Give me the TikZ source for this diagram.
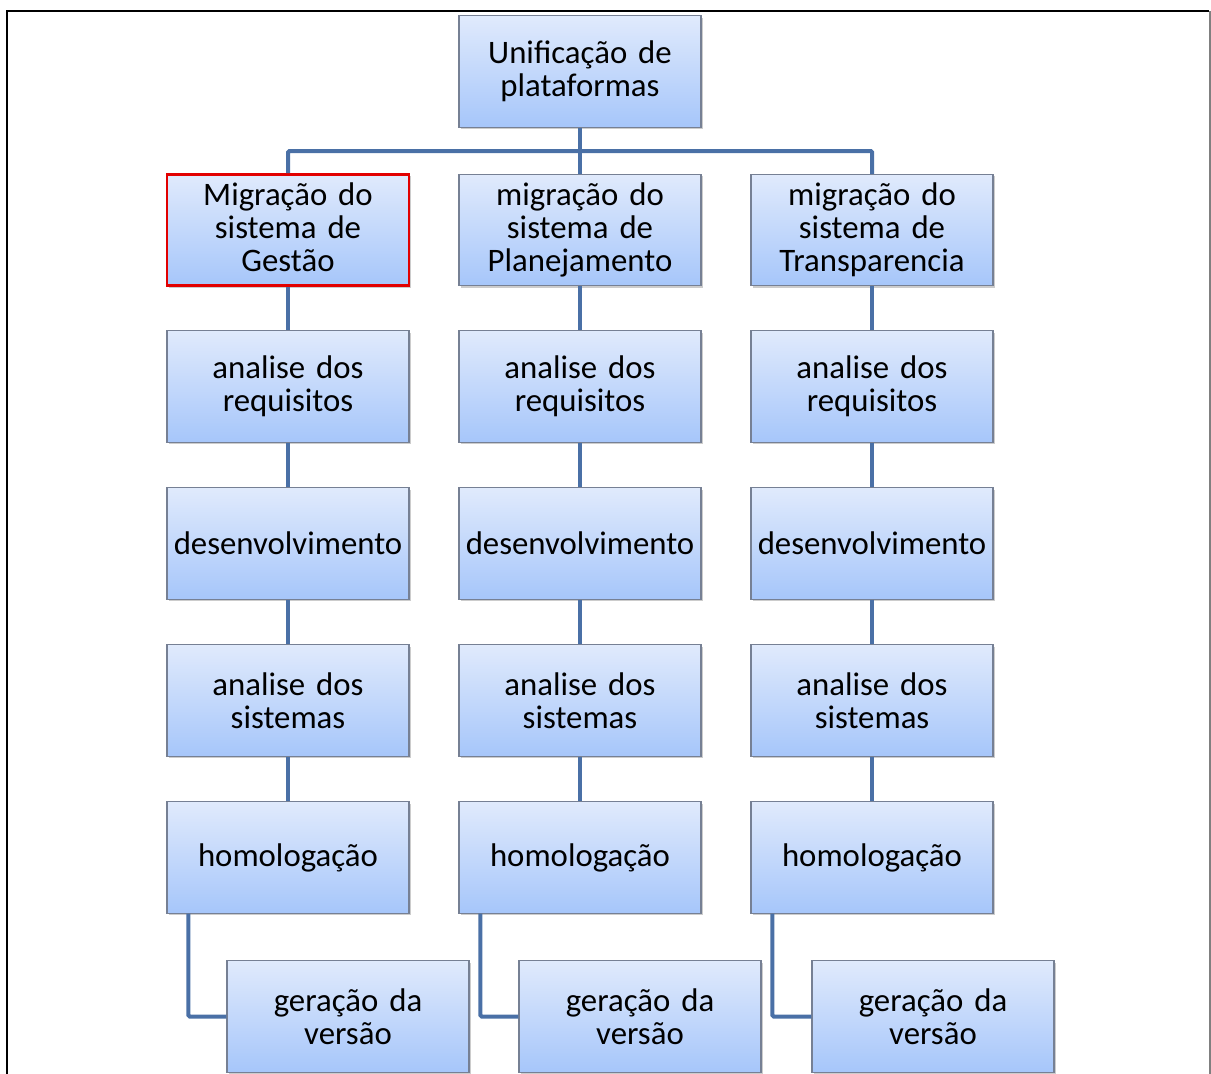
\documentclass[tikz,border=0pt]{standalone}
\usepackage{fontspec}
\setmainfont{Carlito}
\usetikzlibrary{shadows}

\definecolor{boxtop}{RGB}{224,234,252}
\definecolor{boxbot}{RGB}{166,198,250}
\definecolor{boxline}{RGB}{118,128,148}
\definecolor{linkblue}{RGB}{74,112,166}
\definecolor{markred}{RGB}{226,0,0}

\begin{document}
\begin{tikzpicture}[x=0.75pt, y=-0.75pt,
  box/.style={rectangle, draw=boxline, line width=0.8pt,
    top color=boxtop, bottom color=boxbot,
    minimum width=181.5pt, minimum height=83.5pt, text width=178pt,
    align=center, inner sep=0pt,
    font=\fontsize{24.6}{24.75}\selectfont,
    drop shadow={shadow xshift=1.2pt, shadow yshift=-1.5pt, opacity=0.4}},
  link/.style={draw=linkblue, line width=3pt, rounded corners=1pt}]

\useasboundingbox (0,0) rectangle (1211,1074);

% frame
\draw[line width=2pt] (7,1074) |- (1209,11);
\draw[gray, line width=1.5pt] (1209.5,11) -- (1209.5,1074);

\node[box] (u) at (580,71.5) {Unificação de\\plataformas};

\node[box, draw=markred, line width=1.8pt] (m1) at (288,230) {Migração do\\sistema de\\Gestão\vphantom{p}};
\node[box] (m2) at (580,230) {migração do\\sistema de\\Planejamento};
\node[box] (m3) at (872,230) {migração do\\sistema de\\Transparencia};

\node[box] (r1) at (288,386.5) {analise dos\\requisitos};
\node[box] (r2) at (580,386.5) {analise dos\\requisitos};
\node[box] (r3) at (872,386.5) {analise dos\\requisitos};

\node[box] (d1) at (288,543.5) {desenvolvimento};
\node[box] (d2) at (580,543.5) {desenvolvimento};
\node[box] (d3) at (872,543.5) {desenvolvimento};

\node[box] (s1) at (288,700.5) {analise dos\\sistemas};
\node[box] (s2) at (580,700.5) {analise dos\\sistemas};
\node[box] (s3) at (872,700.5) {analise dos\\sistemas};

\node[box] (h1) at (288,857.5) {homologação};
\node[box] (h2) at (580,857.5) {homologação};
\node[box] (h3) at (872,857.5) {homologação};

\node[box] (v1) at (348,1016.5) {geração da\\versão};
\node[box] (v2) at (640,1016.5) {geração da\\versão};
\node[box] (v3) at (933,1016.5) {geração da\\versão};

% connectors
\coordinate (bus) at (580,151);
\draw[link] (u) -- (bus);
\draw[link] (bus) -| (m1);
\draw[link] (bus) -| (m3);
\draw[link] (bus) -- (m2);

\draw[link] (m1) -- (r1);
\draw[link] (r1) -- (d1);
\draw[link] (d1) -- (s1);
\draw[link] (s1) -- (h1);
\draw[link] ([xshift=16.5pt]h1.south west) |- (v1);

\draw[link] (m2) -- (r2);
\draw[link] (r2) -- (d2);
\draw[link] (d2) -- (s2);
\draw[link] (s2) -- (h2);
\draw[link] ([xshift=16.5pt]h2.south west) |- (v2);

\draw[link] (m3) -- (r3);
\draw[link] (r3) -- (d3);
\draw[link] (d3) -- (s3);
\draw[link] (s3) -- (h3);
\draw[link] ([xshift=16.5pt]h3.south west) |- (v3);

\end{tikzpicture}
\end{document}
